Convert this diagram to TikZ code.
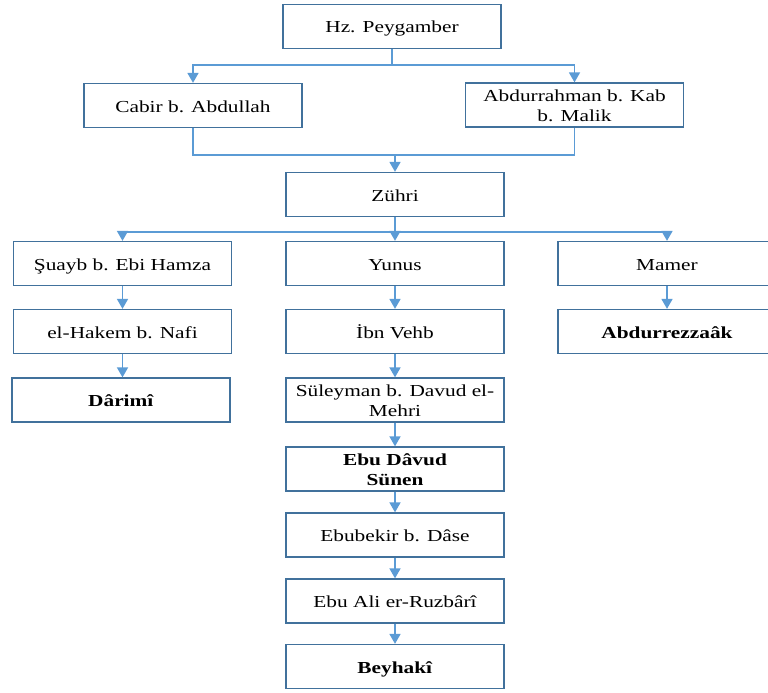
\documentclass[tikz,border=0pt]{standalone}
\usepackage{fontspec}
\setmainfont{Liberation Serif}
\usepackage{graphicx}
\usetikzlibrary{arrows.meta}
\definecolor{lineblue}{HTML}{5B9BD5}
\definecolor{boxblue}{HTML}{41719C}
\newcommand{\stx}[1]{\raisebox{-2.5pt}[\height][\depth]{\scalebox{1.27}[1]{\begin{tabular}{@{}c@{}}#1\end{tabular}}}}
\begin{document}
\begin{tikzpicture}[x=1pt,y=-1pt,
  box/.style={draw=boxblue, line width=1.3pt, minimum width=218pt, minimum height=44pt, inner sep=0pt, font=\fontsize{16.8}{20}\selectfont, align=center},
  conn/.style={draw=lineblue, line width=1.7pt},
  arr/.style={conn, -{Triangle[width=11pt,length=10pt]}}]
\useasboundingbox (0,0) rectangle (768,693);
\node[box] (hz)  at (392,26.5)  {\stx{Hz. Peygamber}};
\node[box] (cab) at (193,105.5) {\stx{Cabir b. Abdullah}};
\node[box] (abd) at (574.5,105) {\stx{Abdurrahman b. Kab\\b. Malik}};
\node[box] (zuh) at (395,194.5) {\stx{Zühri}};
\node[box] (sua) at (122.5,263.5) {\stx{Şuayb b. Ebi Hamza}};
\node[box] (yun) at (395,263.5) {\stx{Yunus}};
\node[box] (mam) at (667,263.5) {\stx{Mamer}};
\node[box] (hak) at (122.5,331.5) {\stx{el-Hakem b. Nafi}};
\node[box] (ibn) at (395,331.5) {\stx{İbn Vehb}};
\node[box] (rez) at (667,331.5) {\stx{\textbf{Abdurrezzaâk}}};
\node[box] (dar) at (121,400) {\stx{\textbf{Dârimî}}};
\node[box] (sul) at (395,400) {\stx{Süleyman b. Davud el-\\Mehri}};
\node[box] (ebd) at (395,469) {\stx{\textbf{Ebu Dâvud}\\\textbf{Sünen}}};
\node[box] (ebb) at (395,535) {\stx{Ebubekir b. Dâse}};
\node[box] (eba) at (395,601) {\stx{Ebu Ali er-Ruzbârî}};
\node[box] (bey) at (395,666.5) {\stx{\textbf{Beyhakî}}};
\coordinate (j1) at (392,65);
\coordinate (j2) at (395,155);
\coordinate (j3) at (395,232);
\draw[conn] (hz.south) -- (j1);
\draw[arr] (j1) -| (cab.north);
\draw[arr] (j1) -| (abd.north);
\draw[conn] (cab.south) |- (j2) -| (abd.south);
\draw[arr] (j2) -- (zuh.north);
\draw[conn] (zuh.south) -- (j3);
\draw[arr] (j3) -| (sua.north);
\draw[arr] (j3) -- (yun.north);
\draw[arr] (j3) -| (mam.north);
\draw[arr] (sua.south) -- (hak.north);
\draw[arr] (hak.south) -- (hak.south |- dar.north);
\draw[arr] (yun.south) -- (ibn.north);
\draw[arr] (ibn.south) -- (sul.north);
\draw[arr] (sul.south) -- (ebd.north);
\draw[arr] (ebd.south) -- (ebb.north);
\draw[arr] (ebb.south) -- (eba.north);
\draw[arr] (eba.south) -- (bey.north);
\draw[arr] (mam.south) -- (rez.north);
\end{tikzpicture}
\end{document}
